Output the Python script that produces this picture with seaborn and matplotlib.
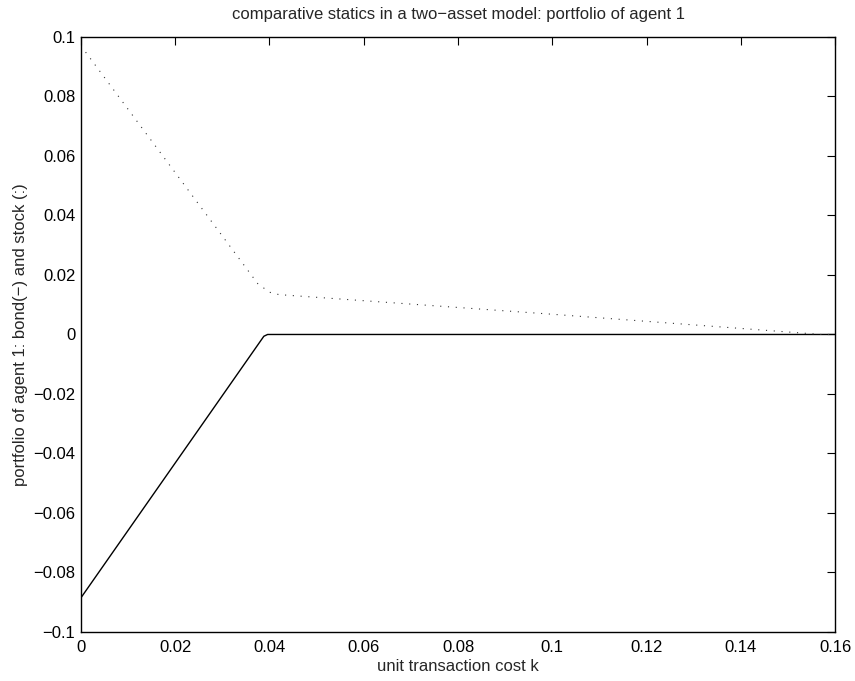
import pandas as pd
import matplotlib
matplotlib.use('Agg')
import matplotlib.pyplot as plt
import seaborn as sns

# portfolio of agent 1 vs unit transaction cost k
k_bond = [0.0, 0.0388, 0.0396, 0.1000, 0.1600]
bond = [-0.0885, -0.0006, 0.0000, 0.0000, 0.0000]

k_stock = [0.0, 0.0375, 0.0400, 0.0420, 0.1000, 0.1570, 0.1600]
stock = [0.0970, 0.0171, 0.0142, 0.0134, 0.0068, 0.0000, 0.0000]

df_bond = pd.DataFrame({'k': k_bond, 'v': bond})
df_stock = pd.DataFrame({'k': k_stock, 'v': stock})

sns.set_style('white')
plt.rcParams['font.family'] = ['Liberation Sans', 'DejaVu Sans']

fig = plt.figure(figsize=(8.55, 6.81), dpi=100)
ax = fig.add_axes([0.0947, 0.072, 0.882, 0.8737])

sns.lineplot(data=df_bond, x='k', y='v', ax=ax, color='black', linewidth=1.0,
             sort=False, estimator=None)
sns.lineplot(data=df_stock, x='k', y='v', ax=ax, color='#333333', linewidth=0.8,
             linestyle=(0, (1, 6)), sort=False, estimator=None)

ax.set_xlim(0, 0.16)
ax.set_ylim(-0.1, 0.1)
ax.set_xticks([0, 0.02, 0.04, 0.06, 0.08, 0.1, 0.12, 0.14, 0.16])
ax.set_xticklabels(['0', '0.02', '0.04', '0.06', '0.08', '0.1', '0.12', '0.14', '0.16'])
ax.set_yticks([-0.1, -0.08, -0.06, -0.04, -0.02, 0, 0.02, 0.04, 0.06, 0.08, 0.1])
ax.set_yticklabels(['\u22120.1', '\u22120.08', '\u22120.06', '\u22120.04', '\u22120.02', '0',
                    '0.02', '0.04', '0.06', '0.08', '0.1'])
ax.tick_params(direction='in', length=6, width=0.8, top=True, right=True,
               labelsize=12, colors='black')
ax.tick_params(axis='x', pad=6)
ax.tick_params(axis='y', pad=4)
for s in ax.spines.values():
    s.set_color('black')
    s.set_linewidth(1.0)

ax.set_xlabel('unit transaction cost k', fontsize=12, labelpad=3)
ax.set_ylabel('portfolio of agent 1: bond(\u2212) and stock (:)', fontsize=12, labelpad=4)
ax.set_title('comparative statics in a two\u2212asset model: portfolio of agent 1', fontsize=12, pad=13)

fig.savefig('out.png', dpi=100)
